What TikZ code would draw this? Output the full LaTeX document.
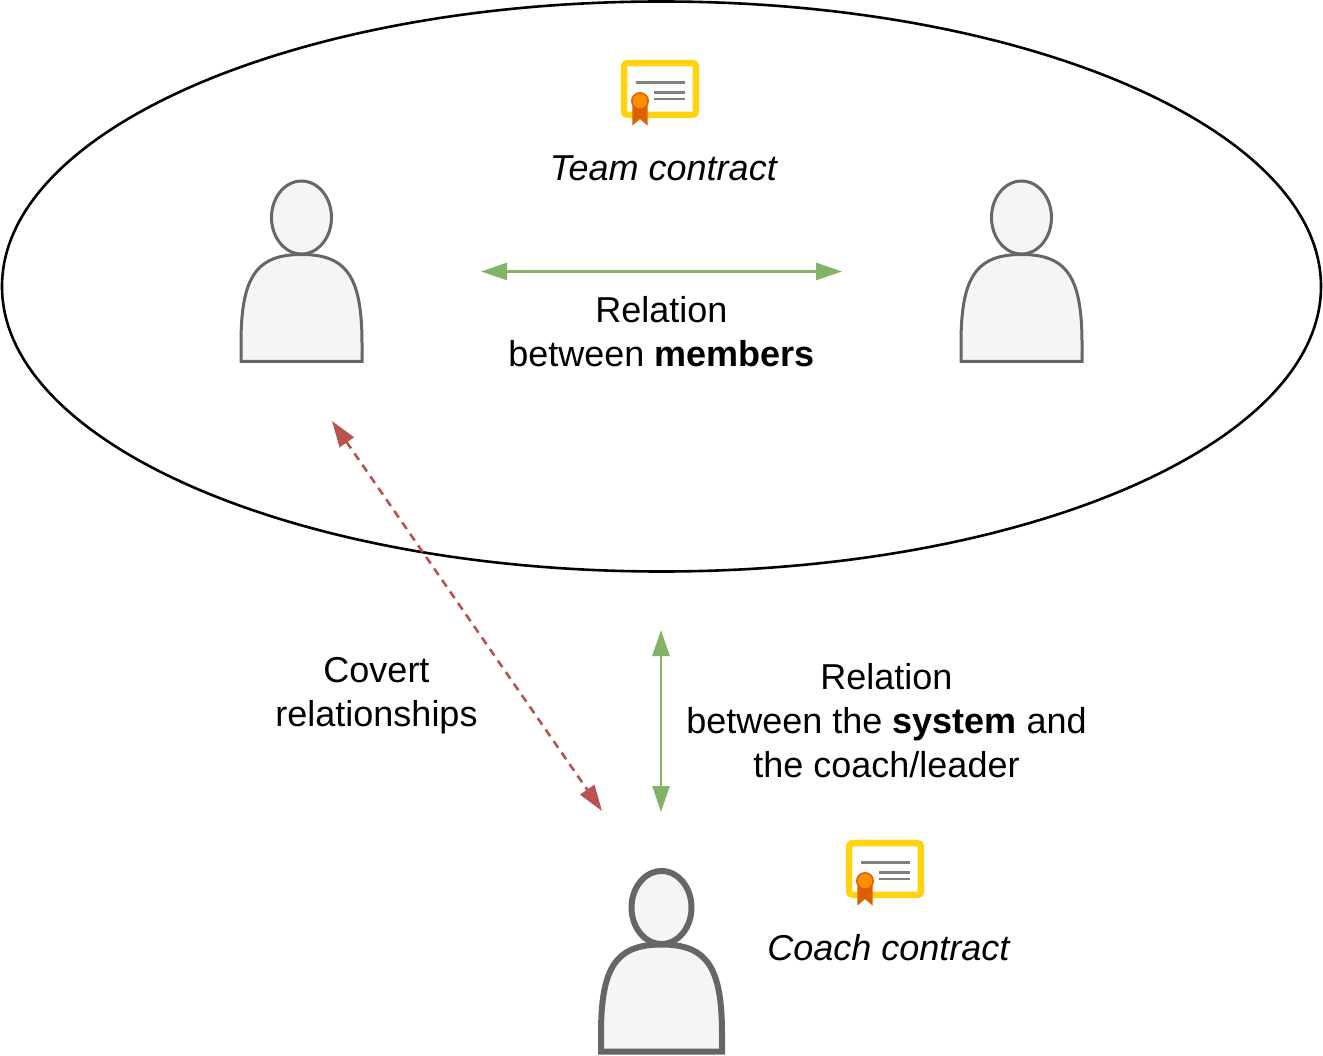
\documentclass[tikz,border=0pt]{standalone}
\usepackage{fontspec}
\setmainfont{Liberation Sans}
\usetikzlibrary{arrows.meta,shapes.geometric}
\definecolor{certyellow}{HTML}{FFD310}
\definecolor{certgray}{HTML}{808080}
\definecolor{ribbon}{HTML}{DD5F00}
\definecolor{seal}{HTML}{FF8F00}
\definecolor{relgreen}{HTML}{82B366}
\definecolor{relred}{HTML}{B85450}
\definecolor{persongray}{HTML}{666666}
\definecolor{personfill}{HTML}{F5F5F5}
\tikzset{
  person/.pic={
    \draw[persongray,fill=personfill] (-60.5,0) -- (-60.5,-18)
      .. controls (-60.5,-85) and (-45,-107) .. (0,-107)
      .. controls (45,-107) and (60.5,-85) .. (60.5,-18) -- (60.5,0) -- cycle;
    \draw[persongray,fill=personfill] (0,-144) circle [x radius=30,y radius=36.5];
  },
  certificate/.pic={
    \draw[certyellow,fill=white,line width=6.5pt,rounded corners=3pt] (3.2,3.2) rectangle (74.8,54.8);
    \draw[certgray,line width=2.8pt] (14.7,22.3) -- (63.7,22.3);
    \draw[certgray,line width=2.8pt] (33.3,32.3) -- (63.7,32.3);
    \draw[certgray,line width=2.8pt] (33.3,39) -- (63.7,39);
    \fill[ribbon] (11.3,46) -- (26.7,46) -- (26.7,65.7) -- (19,59) -- (11.3,65.7) -- cycle;
    \draw[ribbon,fill=seal,line width=1.5pt] (19,41) circle (8.2);
  },
  label/.style={font=\fontsize{36}{44}\selectfont,align=center,inner sep=0pt},
  relation/.style={relgreen,line width=2.6pt,{Triangle[length=26pt,width=17pt]}-{Triangle[length=26pt,width=17pt]}},
  covert/.style={relred,line width=2.6pt,dash pattern=on 8pt off 6pt,{Triangle[length=26pt,width=17pt]}-{Triangle[length=26pt,width=17pt]}}
}
\begin{document}
\begin{tikzpicture}[x=1pt,y=-1pt]
  \useasboundingbox (0,0) rectangle (1323,1056);
  \node[draw,ellipse,line width=2.6pt,inner sep=0pt,minimum width=1319pt,minimum height=570pt] (team) at (661.5,286.5) {};
  \pic[line width=3pt] (member1) at (301.5,361.5) {person};
  \pic[line width=3pt] (member2) at (1021.5,361.5) {person};
  \pic[line width=6pt] (coach) at (661.5,1051.5) {person};
  \pic (teamcert) at (621,60) {certificate};
  \pic (coachcert) at (846,840) {certificate};
  \draw
    (664,168) node[label] (teamlabel){\textit{Team contract}}
    (661.5,332) node[label] (memberlabel){Relation\\between \textbf{members}}
    (376.5,695.5) node[label] (covertlabel){Covert\\relationships}
    (886.5,721) node[label] (systemlabel){Relation\\between the \textbf{system} and\\the coach/leader}
    (889,948) node[label] (coachlabel){\textit{Coach contract}};
  \coordinate (a) at (481,271.5);
  \coordinate (b) at (842,271.5);
  \coordinate (c) at (661,630);
  \coordinate (d) at (661,812);
  \coordinate (e) at (332,421);
  \coordinate (f) at (602,811);
  \begin{scope}[relation]
    \draw (a) to (b);
    \draw (c) to (d);
  \end{scope}
  \begin{scope}[covert]
    \draw (e) to (f);
  \end{scope}
\end{tikzpicture}
\end{document}
